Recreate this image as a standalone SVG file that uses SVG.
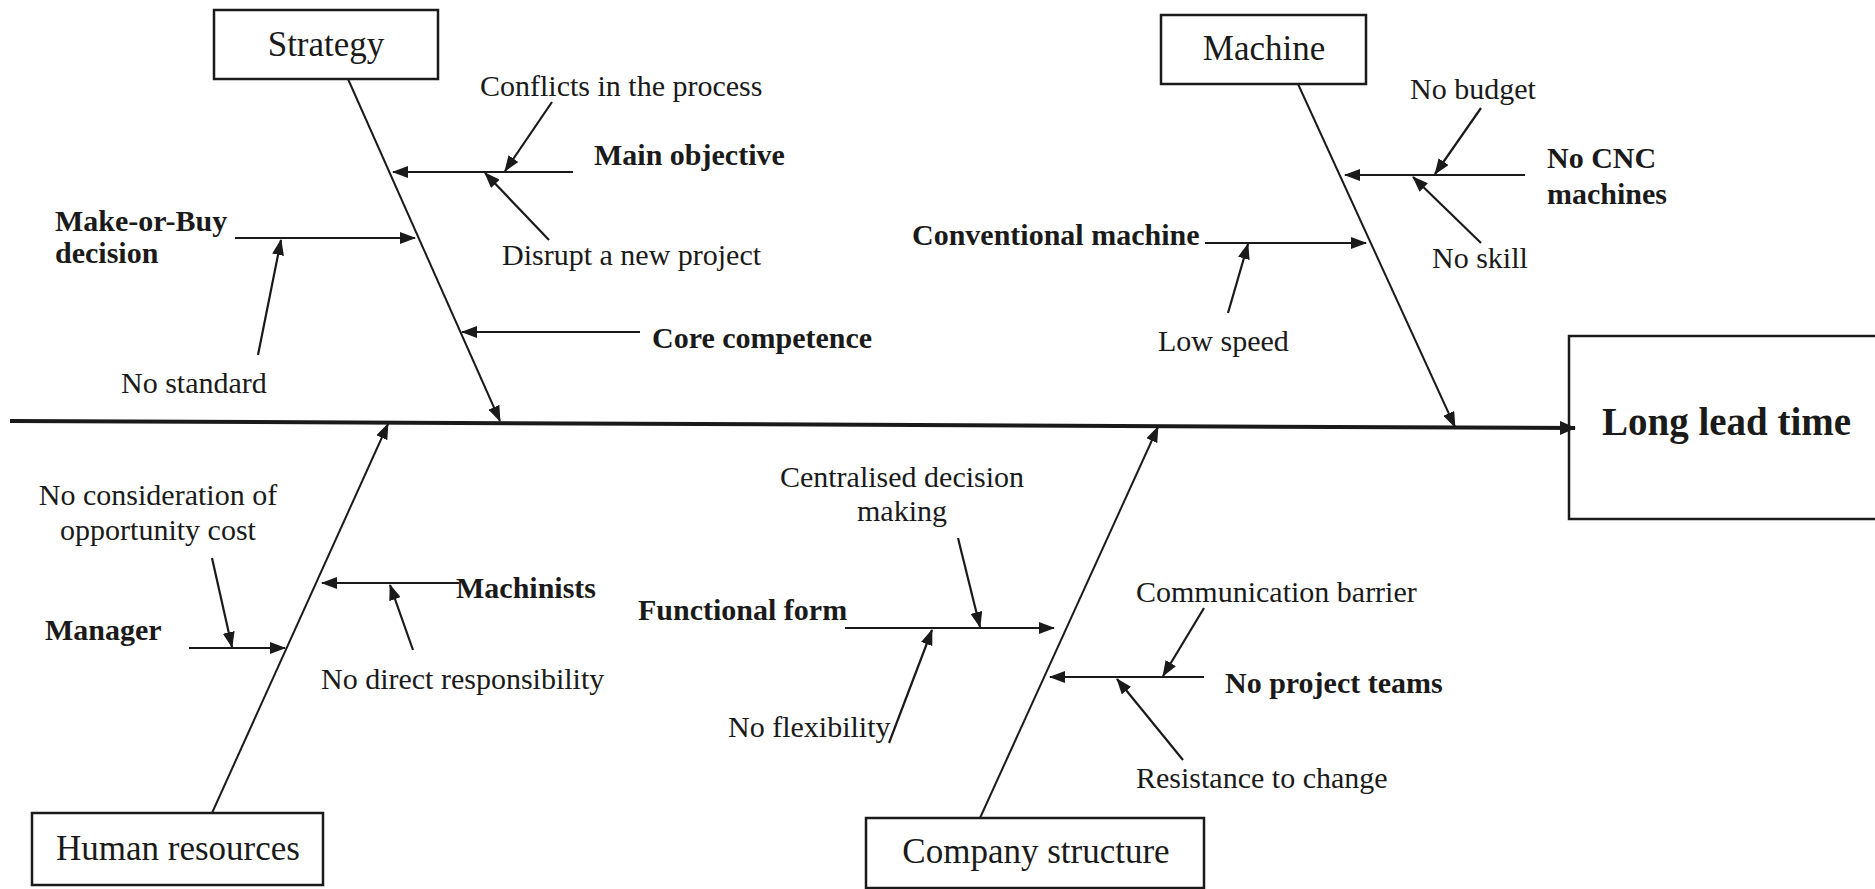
<svg xmlns="http://www.w3.org/2000/svg" width="1875" height="889" viewBox="0 0 1875 889">
<style>
text{font-family:"Liberation Serif","Times New Roman",serif;fill:#1a1a1a}
.lbl{font-size:30px}
.b{font-size:30px;font-weight:bold}
.box{fill:none;stroke:#1a1a1a;stroke-width:2.5}
.bt{font-size:35px;text-anchor:middle}
.spine{stroke:#1a1a1a;stroke-width:2;fill:none}
.br{stroke:#1a1a1a;stroke-width:2.2;fill:none}
.main{stroke:#1a1a1a;stroke-width:4;fill:none}
</style>
<defs>
<marker id="ah" markerUnits="userSpaceOnUse" markerWidth="16" markerHeight="12" viewBox="0 0 16 12" refX="15" refY="6" orient="auto">
<path d="M0,0 L16,6 L0,12 z" fill="#1a1a1a"/>
</marker>
<marker id="ahBig" markerUnits="userSpaceOnUse" markerWidth="16" markerHeight="14" viewBox="0 0 16 14" refX="15" refY="7" orient="auto">
<path d="M0,0 L16,7 L0,14 z" fill="#1a1a1a"/>
</marker>
</defs>
<rect width="1875" height="889" fill="#ffffff"/>

<g id="connectors">
<line class="main" x1="10" y1="421" x2="1575" y2="428" marker-end="url(#ahBig)"/>
<line class="spine" x1="348" y1="79" x2="500" y2="421" marker-end="url(#ah)"/>
<line class="spine" x1="1298" y1="84" x2="1455" y2="427" marker-end="url(#ah)"/>
<line class="spine" x1="212" y1="813" x2="388" y2="424" marker-end="url(#ah)"/>
<line class="spine" x1="980" y1="818" x2="1158" y2="427" marker-end="url(#ah)"/>

<line class="br" x1="573" y1="172" x2="393" y2="172" marker-end="url(#ah)"/>
<line class="br" x1="552" y1="102" x2="505" y2="171" marker-end="url(#ah)"/>
<line class="br" x1="549" y1="240" x2="485" y2="173" marker-end="url(#ah)"/>
<line class="br" x1="235" y1="238" x2="415" y2="238" marker-end="url(#ah)"/>
<line class="br" x1="258" y1="355" x2="281" y2="240" marker-end="url(#ah)"/>
<line class="br" x1="640" y1="332" x2="462" y2="332" marker-end="url(#ah)"/>

<line class="br" x1="1525" y1="175" x2="1345" y2="175" marker-end="url(#ah)"/>
<line class="br" x1="1481" y1="108" x2="1435" y2="174" marker-end="url(#ah)"/>
<line class="br" x1="1481" y1="243" x2="1413" y2="177" marker-end="url(#ah)"/>
<line class="br" x1="1205" y1="243" x2="1366" y2="243" marker-end="url(#ah)"/>
<line class="br" x1="1228" y1="313" x2="1248" y2="244" marker-end="url(#ah)"/>

<line class="br" x1="189" y1="648" x2="285" y2="648" marker-end="url(#ah)"/>
<line class="br" x1="212" y1="558" x2="232" y2="647" marker-end="url(#ah)"/>
<line class="br" x1="459" y1="583" x2="322" y2="583" marker-end="url(#ah)"/>
<line class="br" x1="413" y1="650" x2="390" y2="585" marker-end="url(#ah)"/>

<line class="br" x1="845" y1="628" x2="1054" y2="628" marker-end="url(#ah)"/>
<line class="br" x1="958" y1="538" x2="980" y2="627" marker-end="url(#ah)"/>
<line class="br" x1="889" y1="743" x2="932" y2="630" marker-end="url(#ah)"/>
<line class="br" x1="1204" y1="677" x2="1050" y2="677" marker-end="url(#ah)"/>
<line class="br" x1="1204" y1="608" x2="1163" y2="676" marker-end="url(#ah)"/>
<line class="br" x1="1183" y1="760" x2="1117" y2="679" marker-end="url(#ah)"/>
</g>

<g id="effect">
<rect class="box" x="1569" y="336" width="330" height="183"/>
<text x="1602" y="435" style="font-size:39px;font-weight:bold">Long lead time</text>
</g>

<g id="strategy">
<rect class="box" x="214" y="10" width="224" height="69"/>
<text class="bt" x="326" y="56">Strategy</text>
<text class="lbl" x="480" y="96">Conflicts in the process</text>
<text class="b" x="594" y="165">Main objective</text>
<text class="lbl" x="502" y="265">Disrupt a new project</text>
<text class="b" x="55" y="231">Make-or-Buy</text>
<text class="b" x="55" y="263">decision</text>
<text class="lbl" x="121" y="393">No standard</text>
<text class="b" x="652" y="348">Core competence</text>
</g>

<g id="machine">
<rect class="box" x="1161" y="15" width="205" height="69"/>
<text class="bt" x="1264" y="60">Machine</text>
<text class="lbl" x="1410" y="99">No budget</text>
<text class="b" x="1547" y="168">No CNC</text>
<text class="b" x="1547" y="204">machines</text>
<text class="lbl" x="1432" y="268">No skill</text>
<text class="b" x="912" y="245">Conventional machine</text>
<text class="lbl" x="1158" y="351">Low speed</text>
</g>

<g id="human-resources">
<rect class="box" x="32" y="813" width="291" height="72"/>
<text class="bt" x="178" y="860">Human resources</text>
<text class="lbl" x="158" y="505" text-anchor="middle">No consideration of</text>
<text class="lbl" x="158" y="540" text-anchor="middle">opportunity cost</text>
<text class="b" x="45" y="640">Manager</text>
<text class="b" x="456" y="598">Machinists</text>
<text class="lbl" x="321" y="689">No direct responsibility</text>
</g>

<g id="company-structure">
<rect class="box" x="866" y="818" width="338" height="70"/>
<text class="bt" x="1036" y="863">Company structure</text>
<text class="lbl" x="902" y="487" text-anchor="middle">Centralised decision</text>
<text class="lbl" x="902" y="521" text-anchor="middle">making</text>
<text class="b" x="638" y="620">Functional form</text>
<text class="lbl" x="728" y="737">No flexibility</text>
<text class="lbl" x="1136" y="602">Communication barrier</text>
<text class="b" x="1225" y="693">No project teams</text>
<text class="lbl" x="1136" y="788">Resistance to change</text>
</g>
</svg>
